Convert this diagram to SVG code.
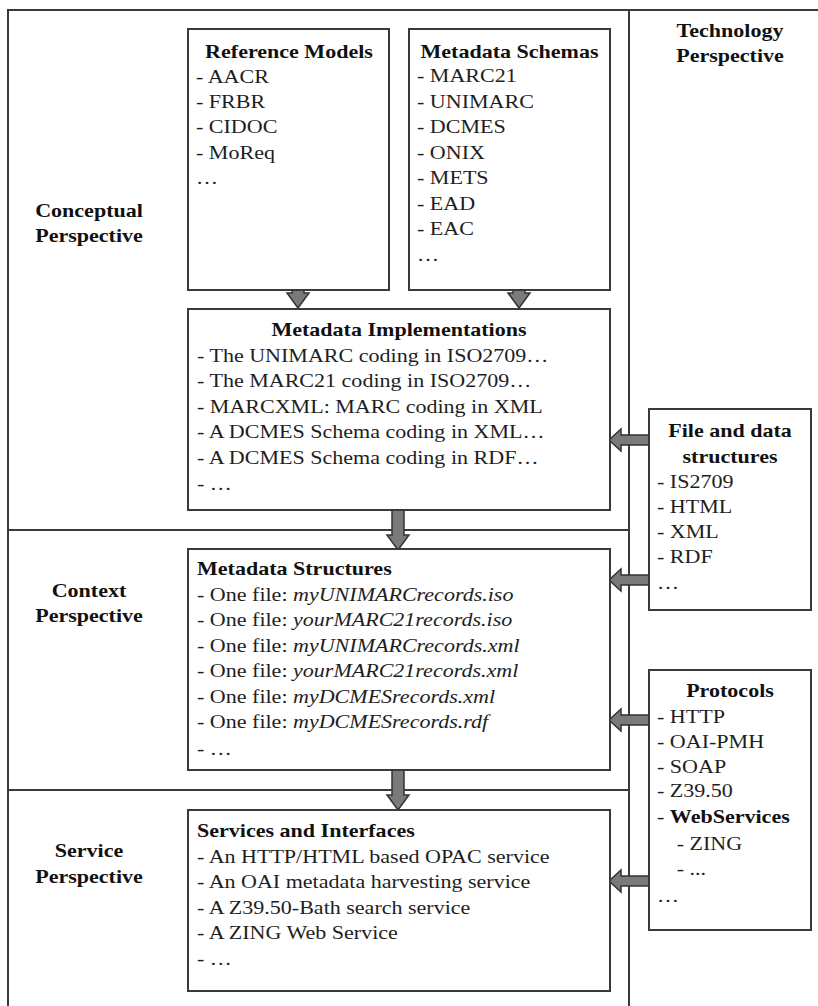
<svg xmlns="http://www.w3.org/2000/svg" width="818" height="1006" viewBox="0 0 818 1006">
  <defs>
    <style>
      .frame { fill: none; stroke: #3a3a3a; stroke-width: 2; }
      .box { fill: #ffffff; stroke: #3a3a3a; stroke-width: 2; }
      .arrow { fill: #7a7a7a; stroke: #333333; stroke-width: 1.5; stroke-linejoin: miter; }
      text { font-family: "Liberation Serif", "Times New Roman", serif; font-size: 19px; fill: #1e1e1e; }
      .b { font-weight: bold; fill: #111111; }
      .i { font-style: italic; }
      .c { text-anchor: middle; }
    </style>
    <!-- block arrows pointing down / left, drawn at the origin tip -->
    <path id="down" d="M -6 -40 L 6 -40 L 6 -15 L 11 -15 L 0 0 L -11 -15 L -6 -15 Z"/>
    <path id="left" d="M 0 0 L 12 -11 L 12 -5 L 40 -5 L 40 5 L 12 5 L 12 11 Z"/>
  </defs>

  <rect width="818" height="1006" fill="#ffffff"/>

  <!-- perspective frame -->
  <g id="frame">
    <path class="frame" d="M 8 1006 L 8 10 L 818 10"/>
    <path class="frame" d="M 629 10 L 629 1006"/>
    <path class="frame" d="M 8 530 L 629 530"/>
    <path class="frame" d="M 8 790 L 629 790"/>
  </g>

  <!-- perspective labels -->
  <g id="conceptual-perspective">
    <g transform="translate(89 0) scale(1.16 1)">
      <text class="b c" y="217">Conceptual</text>
      <text class="b c" y="242">Perspective</text>
    </g>
  </g>
  <g id="context-perspective">
    <g transform="translate(89 0) scale(1.16 1)">
      <text class="b c" y="597">Context</text>
      <text class="b c" y="622">Perspective</text>
    </g>
  </g>
  <g id="service-perspective">
    <g transform="translate(89 0) scale(1.16 1)">
      <text class="b c" y="857">Service</text>
      <text class="b c" y="883">Perspective</text>
    </g>
  </g>
  <g id="technology-perspective">
    <g transform="translate(730 0) scale(1.16 1)">
      <text class="b c" y="37">Technology</text>
      <text class="b c" y="62">Perspective</text>
    </g>
  </g>

  <!-- connectors -->
  <g id="connectors">
    <use href="#down" class="arrow" x="298" y="308"/>
    <use href="#down" class="arrow" x="519" y="308"/>
    <use href="#down" class="arrow" x="398" y="550"/>
    <use href="#down" class="arrow" x="398" y="810"/>
    <use href="#left" class="arrow" x="609" y="440"/>
    <use href="#left" class="arrow" x="609" y="580"/>
    <use href="#left" class="arrow" x="609" y="720"/>
    <use href="#left" class="arrow" x="609" y="881"/>
  </g>

  <g id="reference-models">
    <rect class="box" x="188" y="29" width="201" height="261"/>
    <g transform="translate(289 0) scale(1.16 1)">
      <text class="b c" y="58">Reference Models</text>
    </g>
    <g transform="translate(196 0) scale(1.16 1)">
      <text y="83">- AACR</text>
      <text y="108">- FRBR</text>
      <text y="133">- CIDOC</text>
      <text y="159">- MoReq</text>
      <text y="184">…</text>
    </g>
  </g>

  <g id="metadata-schemas">
    <rect class="box" x="409" y="29" width="201" height="261"/>
    <g transform="translate(509.5 0) scale(1.16 1)">
      <text class="b c" y="58">Metadata Schemas</text>
    </g>
    <g transform="translate(417 0) scale(1.16 1)">
      <text y="82">- MARC21</text>
      <text y="108">- UNIMARC</text>
      <text y="133">- DCMES</text>
      <text y="159">- ONIX</text>
      <text y="184">- METS</text>
      <text y="210">- EAD</text>
      <text y="235">- EAC</text>
      <text y="261">…</text>
    </g>
  </g>

  <g id="metadata-implementations">
    <rect class="box" x="188" y="309" width="422" height="201"/>
    <g transform="translate(399 0) scale(1.16 1)">
      <text class="b c" y="336">Metadata Implementations</text>
    </g>
    <g transform="translate(197 0) scale(1.16 1)">
      <text y="362">- The UNIMARC coding in ISO2709…</text>
      <text y="387">- The MARC21 coding in ISO2709…</text>
      <text y="413">- MARCXML: MARC coding in XML</text>
      <text y="438">- A DCMES Schema coding in XML…</text>
      <text y="464">- A DCMES Schema coding in RDF…</text>
      <text y="490">- …</text>
    </g>
  </g>

  <g id="metadata-structures">
    <rect class="box" x="188" y="549" width="422" height="221"/>
    <g transform="translate(197 0) scale(1.16 1)">
      <text class="b" y="575">Metadata Structures</text>
      <text y="601">- One file: <tspan class="i">myUNIMARCrecords.iso</tspan></text>
      <text y="626">- One file: <tspan class="i">yourMARC21records.iso</tspan></text>
      <text y="652">- One file: <tspan class="i">myUNIMARCrecords.xml</tspan></text>
      <text y="677">- One file: <tspan class="i">yourMARC21records.xml</tspan></text>
      <text y="703">- One file: <tspan class="i">myDCMESrecords.xml</tspan></text>
      <text y="728">- One file: <tspan class="i">myDCMESrecords.rdf</tspan></text>
      <text y="755">- …</text>
    </g>
  </g>

  <g id="services-and-interfaces">
    <rect class="box" x="188" y="810" width="422" height="181"/>
    <g transform="translate(197 0) scale(1.16 1)">
      <text class="b" y="837">Services and Interfaces</text>
      <text y="863">- An HTTP/HTML based OPAC service</text>
      <text y="888">- An OAI metadata harvesting service</text>
      <text y="914">- A Z39.50-Bath search service</text>
      <text y="939">- A ZING Web Service</text>
      <text y="965">- …</text>
    </g>
  </g>

  <g id="file-and-data-structures">
    <rect class="box" x="649" y="409" width="162" height="201"/>
    <g transform="translate(730 0) scale(1.16 1)">
      <text class="b c" y="437">File and data</text>
      <text class="b c" y="463">structures</text>
    </g>
    <g transform="translate(657 0) scale(1.16 1)">
      <text y="488">- IS2709</text>
      <text y="513">- HTML</text>
      <text y="538">- XML</text>
      <text y="563">- RDF</text>
      <text y="589">…</text>
    </g>
  </g>

  <g id="protocols">
    <rect class="box" x="649" y="670" width="162" height="260"/>
    <g transform="translate(730 0) scale(1.16 1)">
      <text class="b c" y="697">Protocols</text>
    </g>
    <g transform="translate(657 0) scale(1.16 1)">
      <text y="723">- HTTP</text>
      <text y="748">- OAI-PMH</text>
      <text y="773">- SOAP</text>
      <text y="797">- Z39.50</text>
      <text y="823">- <tspan class="b">WebServices</tspan></text>
      <text x="17" y="850">- ZING</text>
      <text x="17" y="875">- ...</text>
      <text y="902">…</text>
    </g>
  </g>
</svg>
